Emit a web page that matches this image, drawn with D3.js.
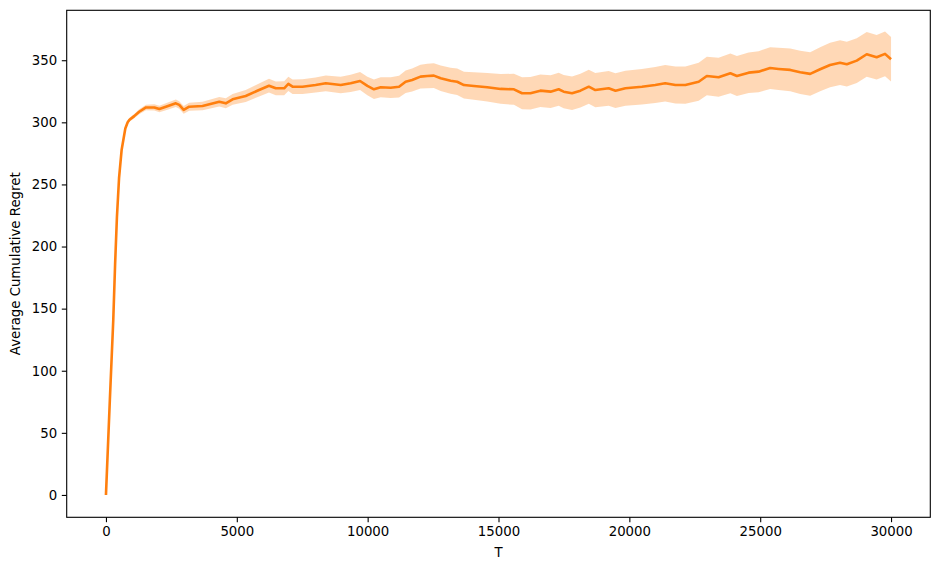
<!DOCTYPE html>
<html>
<head>
<meta charset="utf-8">
<script src="https://cdn.jsdelivr.net/npm/d3@7"></script>
<style>
  body { margin: 0; background: #fff; }
  text { font-family: "DejaVu Sans", sans-serif; }
</style>
</head>
<body>
<div id="chart"></div>
<script>
// round number T and mean cumulative regret
const steps = [0, 150, 280, 350, 420, 500, 600, 740, 830, 900, 1080, 1270, 1530, 1850, 2040, 2290, 2670, 2800, 2970, 3180,
  3690, 4330, 4580, 4840, 5340, 5850, 6230, 6490, 6810, 6970, 7130, 7510, 8010, 8400, 8970, 9350, 9710, 9990, 10240, 10500,
  10880, 11200, 11450, 11700, 12020, 12280, 12530, 12790, 13170, 13420, 13680, 14060, 14570, 15080, 15590, 15900, 16220, 16600, 16990, 17300,
  17490, 17810, 18130, 18450, 18700, 19210, 19470, 19850, 20480, 20990, 21370, 21760, 22140, 22650, 22960, 23410, 23860, 24110, 24560, 24940,
  25380, 25700, 26150, 26530, 26910, 27290, 27670, 28050, 28310, 28690, 29070, 29450, 29770, 30000];

const meanRegret = [0, 77, 141, 186, 224, 255, 278, 295, 300, 302, 305, 308.5, 312, 312, 310.7, 312.6, 315.3, 314, 310, 312.6,
  313.1, 316.6, 315.3, 318.5, 321.2, 326, 329.5, 327.4, 327.4, 330.9, 328.7, 328.7, 330, 331.4, 330, 331.4, 333.3, 329.3, 326.6, 328.2,
  327.9, 328.7, 332.7, 334.1, 336.8, 337.3, 337.6, 335.5, 333.5, 332.7, 330, 329.3, 328.2, 326.9, 326.6, 323.4, 323.4, 325.5, 324.7, 326.6,
  324.7, 323.4, 325.5, 328.7, 326, 327.4, 325.5, 327.4, 328.7, 330, 331.4, 330, 330, 332.7, 337.3, 336.3, 339.5, 337.3, 340, 340.8,
  343.7, 343, 342.2, 340.3, 339, 342.7, 346.2, 348, 346.8, 349.7, 354.8, 352.4, 355.1, 350.8];

// half width of the shaded band
const spread = [0, 0.3, 0.5, 0.6, 0.8, 1, 1.2, 1.4, 1.5, 1.6, 1.8, 2, 2.2, 2.5, 2.6, 2.8, 3, 3, 3.1, 3.2,
  3.4, 3.8, 4, 4.3, 4.8, 5.2, 5.5, 5.5, 5.6, 5.7, 5.8, 5.9, 6, 6.3, 6.6, 7, 7.3, 7.5, 7.8, 8,
  8.4, 8.8, 9, 9.3, 9.6, 9.8, 10, 10.2, 10.4, 10.6, 10.8, 11.1, 11.5, 12, 12.5, 12.8, 13, 13.1, 13.2, 13.3,
  13.4, 13.5, 13.6, 13.7, 13.8, 14, 14, 14.1, 14.3, 14.5, 14.7, 14.9, 15, 15.3, 15.5, 15.7, 16, 16.1, 16.3, 16.5,
  16.8, 17, 17.2, 17.4, 17.5, 17.7, 17.9, 18, 18, 18, 18, 18, 18, 18];

const xTicks = [0, 5000, 10000, 15000, 20000, 25000, 30000];
const yTicks = [0, 50, 100, 150, 200, 250, 300, 350];

const W = 939, H = 570;
const box = { left: 66.7, top: 10.3, right: 930.3, bottom: 517.3 };
const color = "#ff7f0e";

const data = steps.map((t, i) => ({ t: t, m: meanRegret[i], s: spread[i] }));

const svg = d3.select("#chart")
  .append("svg")
  .attr("width", W)
  .attr("height", H);

const x = d3.scaleLinear().domain([-1500, 31500]).range([box.left, box.right]);
const y = d3.scaleLinear().domain([-18, 390.2]).range([box.bottom, box.top]);

// shaded band
const band = d3.area()
  .x((d) => x(d.t))
  .y0((d) => y(d.m - d.s))
  .y1((d) => y(d.m + d.s));

svg.append("path")
  .datum(data)
  .attr("fill", color)
  .attr("fill-opacity", 0.3)
  .attr("d", band);

// mean line
const line = d3.line()
  .x((d) => x(d.t))
  .y((d) => y(d.m));

svg.append("path")
  .datum(data)
  .attr("fill", "none")
  .attr("stroke", color)
  .attr("stroke-width", 2.6)
  .attr("stroke-linejoin", "round")
  .attr("d", line);

// axes
const xAxis = svg.append("g")
  .attr("transform", `translate(0,${box.bottom})`)
  .call(d3.axisBottom(x).tickValues(xTicks).tickFormat(d3.format("d")).tickSize(4.9).tickPadding(4.6));

const yAxis = svg.append("g")
  .attr("transform", `translate(${box.left},0)`)
  .call(d3.axisLeft(y).tickValues(yTicks).tickFormat(d3.format("d")).tickSize(4.9).tickPadding(4.6));

[xAxis, yAxis].forEach((g) => {
  g.select(".domain").remove();
  g.selectAll(".tick line").attr("stroke", "#000").attr("stroke-width", 1.1);
  g.selectAll(".tick text")
    .attr("fill", "#000")
    .style("font-size", "13.3px")
    .style("font-family", "DejaVu Sans, sans-serif");
});

// frame
svg.append("rect")
  .attr("x", box.left)
  .attr("y", box.top)
  .attr("width", box.right - box.left)
  .attr("height", box.bottom - box.top)
  .attr("fill", "none")
  .attr("stroke", "#000")
  .attr("stroke-width", 1.1);

// axis labels
svg.append("text")
  .attr("x", (box.left + box.right) / 2)
  .attr("y", 556.7)
  .attr("text-anchor", "middle")
  .style("font-size", "13.3px")
  .text("T");

svg.append("text")
  .attr("transform", `translate(19.5,${(box.top + box.bottom) / 2}) rotate(-90)`)
  .attr("text-anchor", "middle")
  .style("font-size", "13.3px")
  .text("Average Cumulative Regret");
</script>
</body>
</html>
